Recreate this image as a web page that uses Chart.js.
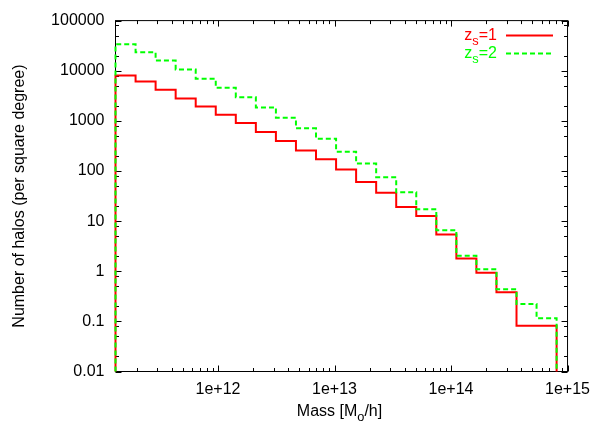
<!DOCTYPE html>
<html><head><meta charset="utf-8">
<script src="https://cdn.jsdelivr.net/npm/chart.js@4"></script>
<style>html,body{margin:0;padding:0;background:#fff}#wrap{width:598px;height:422px}</style>
</head><body><div id="wrap"><canvas id="c" width="598" height="422"></canvas></div>
<script>
// Histogram bin edges (halo mass, M_sun/h)
const binEdges = [1.318e11, 1.960e11, 2.912e11, 4.328e11, 6.433e11, 9.561e11, 1.421e12, 2.112e12,
  3.139e12, 4.665e12, 6.934e12, 1.031e13, 1.532e13, 2.277e13, 3.384e13, 5.029e13, 7.475e13,
  1.111e14, 1.651e14, 2.454e14, 3.648e14, 5.422e14, 8.058e14];
// Halo counts per square degree in each bin
const haloCountZs1 = [8040, 6100, 4170, 2800, 1940, 1330, 904, 598, 396, 255, 171, 107, 60.5, 37,
  19.2, 12.6, 5.4, 1.8, 0.93, 0.38, 0.082, 0.082];
const haloCountZs2 = [33800, 23400, 16000, 10600, 6900, 4570, 2970, 1850, 1155, 708, 442, 243, 141, 75,
  37.7, 17.3, 6.6, 2.04, 1.1, 0.436, 0.222, 0.115];
const seriesNames = ['1', '2'];
const xTickValues = [1e12, 1e13, 1e14, 1e15];
const xTickLabels = ['1e+12', '1e+13', '1e+14', '1e+15'];
const yTickValues = [0.01, 0.1, 1, 10, 100, 1000, 10000, 100000];
const yTickLabels = ['0.01', '0.1', '1', '10', '100', '1000', '10000', '100000'];
const xMinorMultipliers = [2, 3, 4, 5, 6, 7, 8, 9];
const yMinorMultipliers = [2, 5, 8];
const xRange = [1.318e11, 1e15];
const yRange = [0.01, 1e5];

const FONT = "'Liberation Sans', Arial, Helvetica, sans-serif";

function histOutline(edges, vals, floor) {
  const pts = [{x: edges[0], y: floor}];
  for (let i = 0; i < vals.length; i++) pts.push({x: edges[i], y: vals[i]});
  pts.push({x: edges[edges.length - 1], y: vals[vals.length - 1]});
  pts.push({x: edges[edges.length - 1], y: floor});
  return pts;
}

function drawSubText(ctx, parts, x, y, align) {
  const big = '16px ' + FONT, small = '12.8px ' + FONT;
  let w = 0;
  parts.forEach(p => { ctx.font = p.sub ? small : big; w += ctx.measureText(p.t).width; });
  let cx = align === 'right' ? x - w : (align === 'center' ? x - w / 2 : x);
  ctx.textAlign = 'left';
  ctx.textBaseline = 'alphabetic';
  parts.forEach(p => {
    ctx.font = p.sub ? small : big;
    ctx.fillText(p.t, cx, p.sub ? y + 5 : y);
    cx += ctx.measureText(p.t).width;
  });
}

const framePlugin = {
  id: 'gnuplotFrame',
  beforeDatasetsDraw(chart) {
    const ctx = chart.ctx, a = chart.chartArea;
    const xs = chart.scales.x, ys = chart.scales.y;
    ctx.save();
    ctx.strokeStyle = '#000';
    ctx.lineWidth = 1;
    ctx.strokeRect(a.left, a.top, a.right - a.left, a.bottom - a.top);
    ctx.beginPath();
    const tick = (px, major, horiz) => {
      const L = major ? 6 : 3.5;
      if (horiz) {
        const X = Math.round(px) + 0.5;
        ctx.moveTo(X, a.bottom); ctx.lineTo(X, a.bottom - L);
        ctx.moveTo(X, a.top); ctx.lineTo(X, a.top + L);
      } else {
        const Y = Math.round(px) + 0.5;
        ctx.moveTo(a.left, Y); ctx.lineTo(a.left + L, Y);
        ctx.moveTo(a.right, Y); ctx.lineTo(a.right - L, Y);
      }
    };
    for (let d = 11; d <= 15; d++) {
      const base = Math.pow(10, d);
      if (base >= xRange[0] && base <= xRange[1]) tick(xs.getPixelForValue(base), true, true);
      xMinorMultipliers.forEach(m => {
        const v = m * base;
        if (v > xRange[0] && v < xRange[1]) tick(xs.getPixelForValue(v), false, true);
      });
    }
    for (let d = -2; d <= 5; d++) {
      const base = Math.pow(10, d);
      tick(ys.getPixelForValue(base), true, false);
      yMinorMultipliers.forEach(m => {
        const v = m * base;
        if (v < yRange[1]) tick(ys.getPixelForValue(v), false, false);
      });
    }
    ctx.stroke();
    ctx.restore();
  },
  afterDraw(chart) {
    const ctx = chart.ctx, a = chart.chartArea;
    ctx.save();
    // Axis titles
    ctx.fillStyle = '#000';
    drawSubText(ctx, [{t: 'Mass [M'}, {t: 'o', sub: true}, {t: '/h]'}], 339.5, 416, 'center');
    ctx.save();
    ctx.translate(23.5, (a.top + a.bottom) / 2);
    ctx.rotate(-Math.PI / 2);
    ctx.font = '16px ' + FONT;
    ctx.textAlign = 'center';
    ctx.textBaseline = 'alphabetic';
    ctx.fillText('Number of halos (per square degree)', 0, 0);
    ctx.restore();

    // Legend
    const ds = chart.data.datasets;
    const rows = [{base: 40, line: 35.5}, {base: 57.5, line: 53.5}];
    ds.forEach((d) => {
      const r = rows[d.legendRow];
      ctx.fillStyle = d.borderColor;
      drawSubText(ctx, [{t: 'z'}, {t: 's', sub: true}, {t: '=' + seriesNames[d.legendRow]}], 497, r.base, 'right');
      ctx.strokeStyle = d.borderColor;
      ctx.lineWidth = 2;
      ctx.setLineDash(d.borderDash || []);
      ctx.beginPath();
      ctx.moveTo(506, r.line); ctx.lineTo(553, r.line);
      ctx.stroke();
      ctx.setLineDash([]);
    });
    ctx.restore();
  }
};

new Chart(document.getElementById('c'), {
  type: 'line',
  data: {
    datasets: [
      {label: 'zs=1', legendRow: 0, data: histOutline(binEdges, haloCountZs1, yRange[0]), borderColor: '#ff0000',
       borderWidth: 2, stepped: 'before', pointRadius: 0, fill: false, order: 1, clip: 2},
      {label: 'zs=2', legendRow: 1, data: histOutline(binEdges, haloCountZs2, yRange[0]), borderColor: '#00ff00',
       borderWidth: 2, borderDash: [5, 3], stepped: 'before', pointRadius: 0, fill: false, order: 0, clip: 2}
    ]
  },
  options: {
    responsive: false, animation: false, devicePixelRatio: 1,
    layout: {padding: {top: 20.5, right: 24.5, left: 0, bottom: 0}},
    plugins: {legend: {display: false}, tooltip: {enabled: false}},
    scales: {
      x: {
        type: 'logarithmic', min: xRange[0], max: xRange[1],
        grid: {display: false, drawTicks: false}, border: {display: false},
        afterBuildTicks: s => { s.ticks = xTickValues.map(v => ({value: v})); },
        afterFit: s => { s.height = 50.5; },
        ticks: {
          autoSkip: false, maxRotation: 0, padding: 8, color: '#000',
          font: {family: FONT, size: 16},
          callback: (v, i) => xTickLabels[i]
        }
      },
      y: {
        type: 'logarithmic', min: yRange[0], max: yRange[1],
        grid: {display: false, drawTicks: false}, border: {display: false},
        afterBuildTicks: s => { s.ticks = yTickValues.map(v => ({value: v})); },
        afterFit: s => { s.width = 115.5; },
        ticks: {
          autoSkip: false, padding: 11, color: '#000',
          font: {family: FONT, size: 16},
          callback: (v, i) => yTickLabels[i]
        }
      }
    }
  },
  plugins: [framePlugin]
});
</script>
</body></html>
